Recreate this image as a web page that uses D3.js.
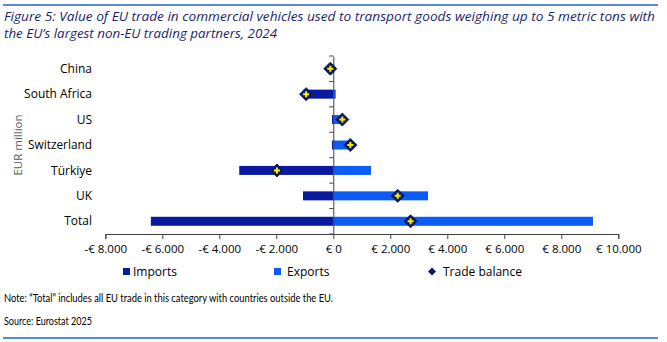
<!DOCTYPE html>
<html><head><meta charset="utf-8">
<script src="https://cdn.jsdelivr.net/npm/d3@7"></script>
<style>body{margin:0;background:#fff}svg{display:block}</style>
</head><body>
<script>
const categories = ["China","South Africa","US","Switzerland","Türkiye","UK","Total"];
const imports = [-130,-1040,-45,-45,-3300,-1063,-6400];
const exports = [30,85,360,640,1323,3323,9112];
const balance = [-105,-955,317,597,-1977,2260,2712];
const xTicks = [-8000,-6000,-4000,-2000,0,2000,4000,6000,8000,10000];

const W=667,H=342;
const svg=d3.select("body").append("svg").attr("width",W).attr("height",H);
const font="'Open Sans', 'Noto Sans', sans-serif";
const narrow="Lato, 'Open Sans', sans-serif";

svg.append("line").attr("x1",3).attr("x2",658).attr("y1",5).attr("y2",5).attr("stroke","#1f5fd6").attr("stroke-width",1.5);
svg.append("line").attr("x1",3).attr("x2",658).attr("y1",338).attr("y2",338).attr("stroke","#1f5fd6").attr("stroke-width",1.5);

const title=["Figure 5: Value of EU trade in commercial vehicles used to transport goods weighing up to 5 metric tons with","the EU’s largest non-EU trading partners, 2024"];
svg.selectAll("text.title").data(title).join("text").attr("class","title")
 .attr("x",4).attr("y",(d,i)=>21+i*17).text(d=>d)
 .attr("font-family",font).attr("font-style","italic").attr("font-size",13.4).attr("fill","#1b1f6e")
 .attr("textLength",(d,i)=>i==0?651:273).attr("lengthAdjust","spacingAndGlyphs");

const x=d3.scaleLinear().domain([-8000,10000]).range([105.3,618.3]);
const y=d3.scaleBand().domain(categories).range([56,234]).paddingInner(0).paddingOuter(0);
const bh=9;

const g=svg.append("g");
g.selectAll("rect.imp").data(categories).join("rect")
 .attr("x",(d,i)=>x(imports[i])).attr("width",(d,i)=>x(0)-x(imports[i]))
 .attr("y",d=>y(d)+y.bandwidth()/2-bh/2).attr("height",bh).attr("fill","#0a1aa0");
g.selectAll("rect.exp").data(categories).join("rect")
 .attr("x",x(0)).attr("width",(d,i)=>x(exports[i])-x(0))
 .attr("y",d=>y(d)+y.bandwidth()/2-bh/2).attr("height",bh).attr("fill","#0a5cf5");

const xa=svg.append("g").attr("transform","translate(0,234)")
 .call(d3.axisBottom(x).tickValues(xTicks).tickSize(5).tickPadding(6)
 .tickFormat(d=>(d<0?"-€ ":"€ ")+d3.format(",")(Math.abs(d)).replace(/,/g,".")));
xa.select(".domain").attr("stroke","#404040");
xa.selectAll(".tick line").attr("stroke","#404040");
xa.selectAll("text").attr("font-family",font).attr("font-size",11.5).attr("fill","#000");

const ya=svg.append("g").attr("transform",`translate(${x(0)},0)`)
 .call(d3.axisLeft(y).tickSize(0).tickPadding(0).tickFormat(()=>""));
ya.select(".domain").attr("stroke","#404040");
ya.selectAll(".tick").remove();
const bounds=d3.range(categories.length+1).map(i=>56+i*y.step());
ya.selectAll("line.bt").data(bounds).join("line").attr("class","bt")
 .attr("x1",-4).attr("x2",0).attr("y1",d=>d).attr("y2",d=>d).attr("stroke","#404040");

svg.selectAll("text.cat").data(categories).join("text").attr("class","cat")
 .attr("x",92).attr("y",d=>y(d)+y.bandwidth()/2).attr("dy","0.35em").attr("text-anchor","end")
 .attr("font-family",font).attr("font-size",12).attr("fill","#000").text(d=>d)
 .attr("textLength",d=>d==="Switzerland"?64:null).attr("lengthAdjust","spacingAndGlyphs");

const dg=svg.selectAll("g.bal").data(categories).join("g").attr("class","bal")
 .attr("transform",(d,i)=>`translate(${x(balance[i])},${y(d)+y.bandwidth()/2})`);
dg.append("path").attr("d","M0,-6.5L6.5,0L0,6.5L-6.5,0Z").attr("fill","#0c1a5e").attr("stroke","#0c1a5e").attr("stroke-width",1);
dg.append("path").attr("d","M-1,-3H1V-1H3V1H1V3H-1V1H-3V-1H-1Z").attr("fill","#ffee00");

svg.append("text").attr("transform","translate(22,145) rotate(-90)").attr("text-anchor","middle")
 .attr("font-family",font).attr("font-size",11.5).attr("fill","#595959").text("EUR million");

svg.append("rect").attr("x",123).attr("y",268).attr("width",7).attr("height",7).attr("fill","#0a1aa0");
svg.append("rect").attr("x",274).attr("y",268).attr("width",7).attr("height",7).attr("fill","#0a5cf5");
svg.append("path").attr("d","M432,267.5L436,271.5L432,275.5L428,271.5Z").attr("fill","#0c1a5e");
[["Imports",133],["Exports",287],["Trade balance",443]].forEach(([t,xx])=>{
 svg.append("text").attr("x",xx).attr("y",271.7).attr("dy","0.35em").attr("font-family",font).attr("font-size",12).attr("fill","#000").text(t);
});

svg.append("text").attr("x",4).attr("y",298).attr("dy","0.35em").attr("font-family",narrow).attr("font-size",12).attr("fill","#000")
 .attr("textLength",329).attr("lengthAdjust","spacingAndGlyphs")
 .text("Note: “Total” includes all EU trade in this category with countries outside the EU.");
svg.append("text").attr("x",4).attr("y",321).attr("dy","0.35em").attr("font-family",narrow).attr("font-size",12).attr("fill","#000")
 .attr("textLength",88).attr("lengthAdjust","spacingAndGlyphs")
 .text("Source: Eurostat 2025");
</script>
</body></html>
